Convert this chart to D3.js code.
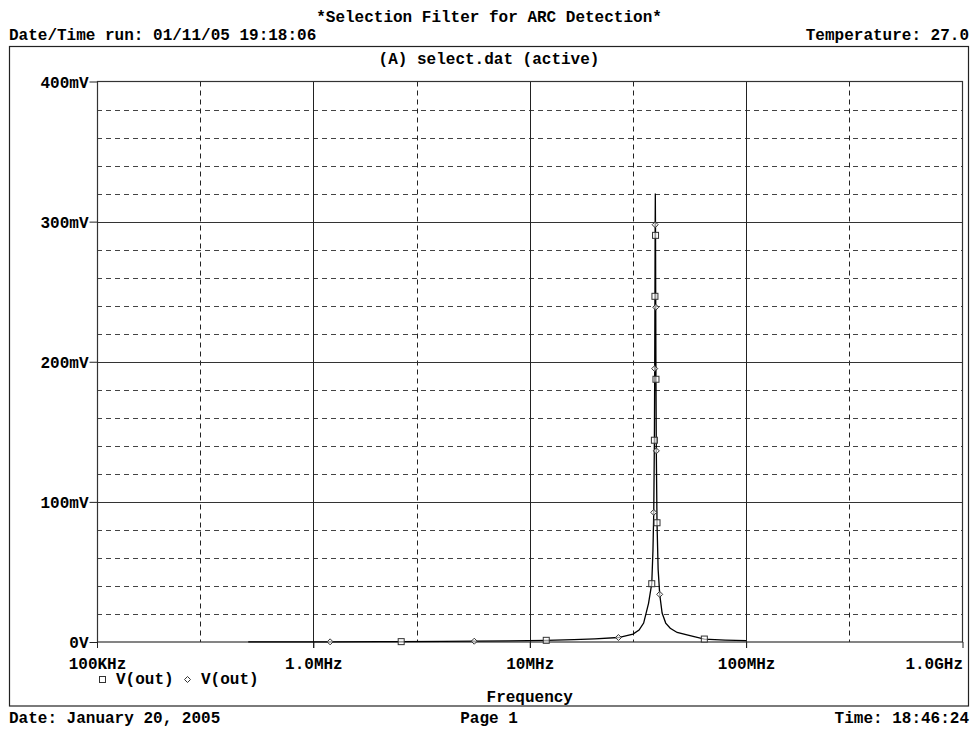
<!DOCTYPE html>
<html>
<head>
<meta charset="utf-8">
<script src="https://cdn.jsdelivr.net/npm/d3@7"></script>
<style>
  html, body { margin: 0; padding: 0; background: #fff; }
  svg text { font-family: "Liberation Mono", "DejaVu Sans Mono", monospace; font-weight: bold; font-size: 16px; fill: #000; }
</style>
</head>
<body>
<svg id="chart" width="974" height="731"></svg>
<script>
// AC sweep of V(out): frequency in MHz, amplitude in mV
const freqMHz = [0.5, 0.8, 1.195, 2.0, 2.546, 4.0, 5.54, 8.0, 11.92, 16.0, 20.0, 25.7, 30.0, 32.0, 33.6, 35.4,
  36.63, 37.1, 37.42, 37.673, 37.803, 37.893, 37.98, 38.05, 38.138, 38.22, 38.313, 38.454, 38.74, 39.2, 39.87,
  40.9, 42.5, 44.6, 48.0, 53.3, 64.1, 80.0, 100.0];
const voutMV = [0.05, 0.08, 0.12, 0.2, 0.26, 0.4, 0.56, 0.8, 1.2, 1.7, 2.3, 3.2, 5.6, 8.5, 13.5, 27.6,
  41.6, 65.0, 92.5, 144.0, 195.1, 246.7, 297.8, 320.0, 290.2, 238.9, 187.5, 136.4, 85.1, 52.0, 34.0,
  20.7, 13.5, 9.8, 6.8, 5.0, 2.1, 1.4, 1.0];

// Marker positions of the two V(out) traces
const squareFreq = [2.546, 11.92, 36.63, 37.673, 37.893, 38.138, 38.313, 38.74, 64.1];
const squareMV = [0.26, 1.2, 41.6, 144.0, 246.7, 290.2, 187.5, 85.1, 2.1];
const diamondFreq = [1.195, 5.54, 25.7, 37.42, 37.803, 37.98, 38.22, 38.454, 39.87];
const diamondMV = [0.12, 0.56, 3.2, 92.5, 195.1, 297.8, 238.9, 136.4, 34.0];

// Axes
const xMajor = [0.1, 1, 10, 100, 1000];
const xMajorLabels = ["100KHz", "1.0MHz", "10MHz", "100MHz", "1.0GHz"];
const xMinor = [0.3, 3, 30, 300];
const yMajor = [0, 100, 200, 300, 400];
const yMajorLabels = ["0V", "100mV", "200mV", "300mV", "400mV"];
const yMinor = [20, 40, 60, 80, 120, 140, 160, 180, 220, 240, 260, 280, 320, 340, 360, 380];

const svg = d3.select("#chart");
const plotL = 97, plotR = 962.5, plotT = 81.5, plotB = 642;

const x = d3.scaleLog().domain([0.1, 1000]).range([plotL, plotR]);
const y = d3.scaleLinear().domain([0, 400]).range([plotB, plotT]);

// Page header
svg.append("text").attr("x", 489).attr("y", 22).attr("text-anchor", "middle")
  .text("*Selection Filter for ARC Detection*");
svg.append("text").attr("x", 9).attr("y", 40).text("Date/Time run: 01/11/05 19:18:06");
svg.append("text").attr("x", 969).attr("y", 40).attr("text-anchor", "end").text("Temperature: 27.0");

// Outer frame
svg.append("rect").attr("x", 9.5).attr("y", 46.5).attr("width", 959).attr("height", 659.5)
  .attr("fill", "none").attr("stroke", "#222").attr("stroke-width", 1.2);

svg.append("text").attr("x", 489).attr("y", 64).attr("text-anchor", "middle")
  .text("(A) select.dat (active)");

// Grid
const grid = svg.append("g");
grid.selectAll("line.ymin").data(yMinor).join("line")
  .attr("x1", plotL).attr("x2", plotR)
  .attr("y1", d => Math.round(y(d)) + 0.5).attr("y2", d => Math.round(y(d)) + 0.5)
  .attr("stroke", "#444").attr("stroke-dasharray", "5,4");
grid.selectAll("line.xmin").data(xMinor).join("line")
  .attr("y1", plotT).attr("y2", plotB)
  .attr("x1", d => Math.round(x(d)) + 0.5).attr("x2", d => Math.round(x(d)) + 0.5)
  .attr("stroke", "#222").attr("stroke-dasharray", "5,4");
grid.selectAll("line.ymaj").data(yMajor.slice(1, 4)).join("line")
  .attr("x1", plotL).attr("x2", plotR)
  .attr("y1", d => Math.round(y(d)) + 0.5).attr("y2", d => Math.round(y(d)) + 0.5)
  .attr("stroke", "#333");
grid.selectAll("line.xmaj").data(xMajor.slice(1, 4)).join("line")
  .attr("y1", plotT).attr("y2", plotB + 6)
  .attr("x1", d => Math.round(x(d)) + 0.5).attr("x2", d => Math.round(x(d)) + 0.5)
  .attr("stroke", "#222");

// Plot box
svg.append("rect").attr("x", plotL + 0.5).attr("y", plotT).attr("width", plotR - plotL - 0.5).attr("height", plotB - plotT)
  .attr("fill", "none").attr("stroke", "#333").attr("stroke-width", 1.2);

// Y axis with ticks and labels
const yAxis = d3.axisLeft(y).tickValues(yMajor).tickSize(8).tickPadding(1)
  .tickFormat((d, i) => yMajorLabels[i]);
const yg = svg.append("g").attr("transform", `translate(${plotL + 0.5},0)`).call(yAxis);
yg.select(".domain").remove();
yg.attr("font-size", null).attr("font-family", null);
yg.selectAll(".tick line").attr("stroke", "#222");
yg.selectAll(".tick text").attr("dy", "0.35em");

// X axis with ticks and labels
const xAxis = d3.axisBottom(x).tickValues(xMajor).tickSize(6).tickPadding(10)
  .tickFormat((d, i) => xMajorLabels[i]);
const xg = svg.append("g").attr("transform", `translate(0,${plotB})`).call(xAxis);
xg.select(".domain").remove();
xg.attr("font-size", null).attr("font-family", null);
xg.selectAll(".tick line").attr("stroke", "#222");
xg.selectAll(".tick text").attr("dy", "0.71em")
  .attr("text-anchor", (d, i) => i === xMajor.length - 1 ? "end" : "middle");

// Trace (both V(out) traces share the same data)
const line = d3.line().x((d, i) => x(freqMHz[i])).y(d => y(d));
svg.append("path").datum(voutMV).attr("d", line)
  .attr("fill", "none").attr("stroke", "#000").attr("stroke-width", 1.3);

// Markers
const sq = 3;
svg.append("g").selectAll("rect").data(squareFreq).join("rect")
  .attr("x", d => x(d) - sq).attr("y", (d, i) => y(squareMV[i]) - sq)
  .attr("width", 2 * sq).attr("height", 2 * sq)
  .attr("fill", "#fff").attr("fill-opacity", 0.6).attr("stroke", "#333").attr("stroke-width", 1);
const dm = 3;
const diamondPath = (cx, cy) => `M${cx},${cy - dm}L${cx + dm},${cy}L${cx},${cy + dm}L${cx - dm},${cy}Z`;
svg.append("g").selectAll("path").data(diamondFreq).join("path")
  .attr("d", (d, i) => diamondPath(x(d), y(diamondMV[i])))
  .attr("fill", "#fff").attr("fill-opacity", 0.6).attr("stroke", "#333").attr("stroke-width", 1);

// Legend
svg.append("rect").attr("x", 99.5).attr("y", 676.5).attr("width", 6).attr("height", 6)
  .attr("fill", "none").attr("stroke", "#333");
svg.append("text").attr("x", 116).attr("y", 684).text("V(out)");
svg.append("path").attr("d", diamondPath(187.5, 679.5)).attr("fill", "none").attr("stroke", "#333");
svg.append("text").attr("x", 201).attr("y", 684).text("V(out)");

// Axis title
svg.append("text").attr("x", (plotL + plotR) / 2).attr("y", 702).attr("text-anchor", "middle").text("Frequency");

// Page footer
svg.append("text").attr("x", 9).attr("y", 723).text("Date: January 20, 2005");
svg.append("text").attr("x", 489).attr("y", 723).attr("text-anchor", "middle").text("Page 1");
svg.append("text").attr("x", 969).attr("y", 723).attr("text-anchor", "end").text("Time: 18:46:24");
</script>
</body>
</html>
